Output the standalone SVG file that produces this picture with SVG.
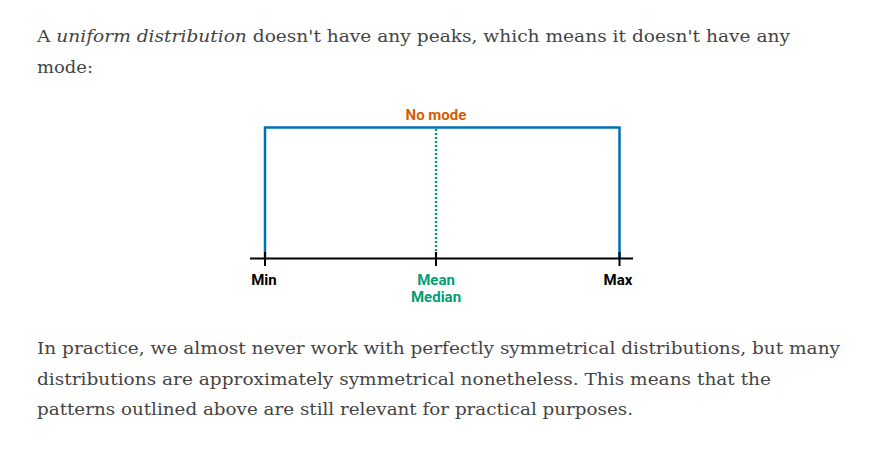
<svg xmlns="http://www.w3.org/2000/svg" width="890" height="471" viewBox="0 0 890 471">
<style>
.body{font-family:"DejaVu Serif","Liberation Serif",serif;font-size:17.5px;fill:#444}
.lbl{font-family:Roboto,"Liberation Sans",sans-serif;font-size:15px;font-weight:bold;text-anchor:middle}
</style>
<rect width="890" height="471" fill="#fff"/>
<g id="intro">
<text class="body" x="37" y="42" textLength="753" lengthAdjust="spacingAndGlyphs">A <tspan font-style="italic">uniform distribution</tspan> doesn't have any peaks, which means it doesn't have any</text>
<text class="body" x="37" y="73" textLength="56" lengthAdjust="spacingAndGlyphs">mode:</text>
</g>
<g id="distribution">
<polyline points="265,258.5 265,127.5 619.5,127.5 619.5,258.5" fill="none" stroke="#0072b2" stroke-width="2.5"/>
</g>
<g id="connectors">
<line x1="436" y1="129" x2="436" y2="258" stroke="#009e73" stroke-width="2.4" stroke-dasharray="2,2"/>
<line x1="250" y1="258.5" x2="633" y2="258.5" stroke="#000" stroke-width="2.2"/>
<line x1="265" y1="252" x2="265" y2="266" stroke="#000" stroke-width="2"/>
<line x1="436" y1="252" x2="436" y2="266" stroke="#000" stroke-width="2"/>
<line x1="619.5" y1="252" x2="619.5" y2="266" stroke="#000" stroke-width="2"/>
</g>
<g id="nomode"><text class="lbl" x="436" y="120" fill="#d55e00">No mode</text></g>
<g id="min"><text class="lbl" x="264" y="285" fill="#000">Min</text></g>
<g id="max"><text class="lbl" x="618" y="285" fill="#000">Max</text></g>
<g id="meanmedian">
<text class="lbl" x="436" y="285" fill="#009e73">Mean</text>
<text class="lbl" x="436" y="302" fill="#009e73">Median</text>
</g>
<g id="outro">
<text class="body" x="37" y="354" textLength="803" lengthAdjust="spacingAndGlyphs">In practice, we almost never work with perfectly symmetrical distributions, but many</text>
<text class="body" x="37" y="385" textLength="734" lengthAdjust="spacingAndGlyphs">distributions are approximately symmetrical nonetheless. This means that the</text>
<text class="body" x="37" y="415" textLength="596" lengthAdjust="spacingAndGlyphs">patterns outlined above are still relevant for practical purposes.</text>
</g>
</svg>
